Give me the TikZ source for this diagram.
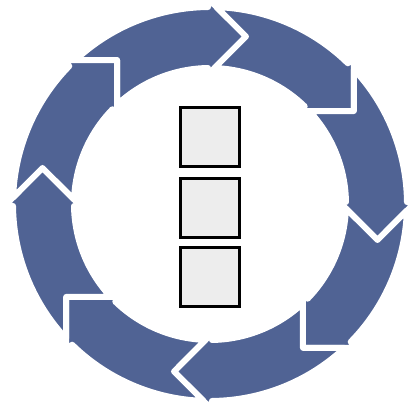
\documentclass[tikz,border=0pt]{standalone}
\usepackage{tikz}

\definecolor{cycleblue}{RGB}{80,99,148}
\definecolor{cellgray}{RGB}{237,237,237}

\tikzset{
  seg/.style={fill=cycleblue, draw=white, line width=6pt, line join=round},
  cell/.style={draw=black, fill=cellgray, line width=3pt, minimum size=59pt, inner sep=0pt}
}

\begin{document}
\begin{tikzpicture}[x=1pt, y=1pt]
\useasboundingbox (-210,-205) rectangle (200,204);
\foreach \k in {0,...,7}{
  \draw[seg, rotate=-45*\k] (133.08:197) arc[start angle=133.08, end angle=90.58, radius=197pt]
    -- (-2,205.5) -- (36,167.5) -- (-2,129.5) -- (90.84:136)
    arc[start angle=90.84, end angle=133.13, radius=136pt] -- (122.87:171.33) -- cycle;
}
\node[cell] (c1) at (0,67) {};
\node[cell] (c2) at (0,-4) {};
\node[cell] (c3) at (0,-73) {};
\end{tikzpicture}
\end{document}
